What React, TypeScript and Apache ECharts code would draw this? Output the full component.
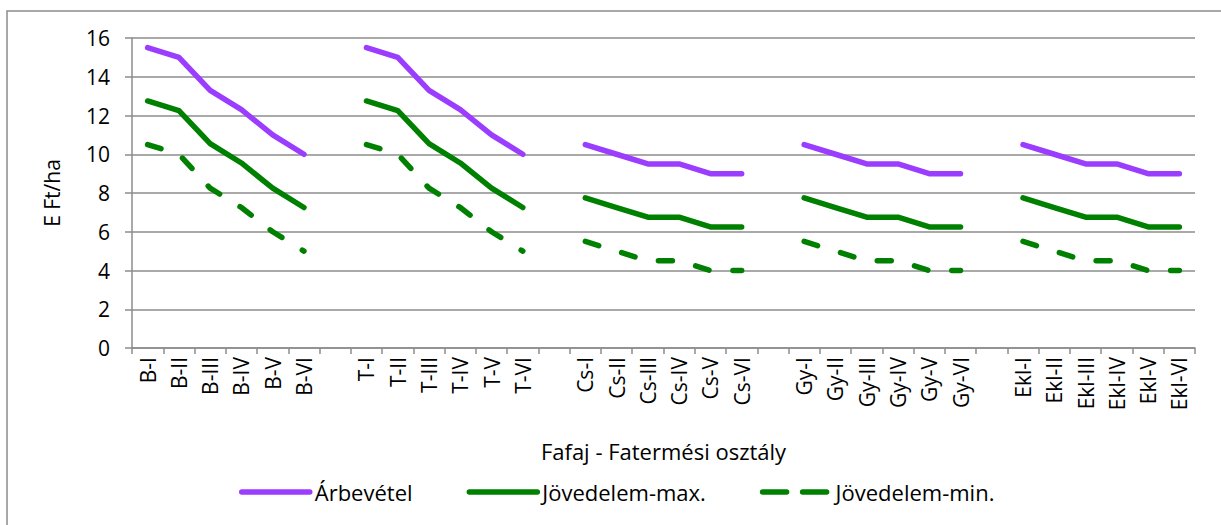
import React, { useEffect, useRef } from "react";
import * as echarts from "echarts";

const categories = [
  "B-I", "B-II", "B-III", "B-IV", "B-V", "B-VI", "_g1",
  "T-I", "T-II", "T-III", "T-IV", "T-V", "T-VI", "_g2",
  "Cs-I", "Cs-II", "Cs-III", "Cs-IV", "Cs-V", "Cs-VI", "_g3",
  "Gy-I", "Gy-II", "Gy-III", "Gy-IV", "Gy-V", "Gy-VI", "_g4",
  "Ekl-I", "Ekl-II", "Ekl-III", "Ekl-IV", "Ekl-V", "Ekl-VI",
];

const arbevetel = [
  15.5, 15, 13.3, 12.3, 11, 10, null,
  15.5, 15, 13.3, 12.3, 11, 10, null,
  10.5, 10, 9.5, 9.5, 9, 9, null,
  10.5, 10, 9.5, 9.5, 9, 9, null,
  10.5, 10, 9.5, 9.5, 9, 9,
];

const jovedelemMax = [
  12.75, 12.25, 10.55, 9.55, 8.25, 7.25, null,
  12.75, 12.25, 10.55, 9.55, 8.25, 7.25, null,
  7.75, 7.25, 6.75, 6.75, 6.25, 6.25, null,
  7.75, 7.25, 6.75, 6.75, 6.25, 6.25, null,
  7.75, 7.25, 6.75, 6.75, 6.25, 6.25,
];

const jovedelemMin = [
  10.5, 10, 8.25, 7.25, 6, 5, null,
  10.5, 10, 8.25, 7.25, 6, 5, null,
  5.5, 5, 4.5, 4.5, 4, 4, null,
  5.5, 5, 4.5, 4.5, 4, 4, null,
  5.5, 5, 4.5, 4.5, 4, 4,
];

const seriesNames = ["Árbevétel", "Jövedelem-max.", "Jövedelem-min."];
const yAxisTitle = "E Ft/ha";
const xAxisTitle = "Fafaj - Fatermési osztály";

const FONT = "'Open Sans', 'Noto Sans', sans-serif";
const PURPLE = "#9B3DFF";
const GREEN = "#008000";
const GRAY = "#8c8c8c";

export default function App() {
  const ref = useRef<HTMLDivElement>(null);

  useEffect(() => {
    if (!ref.current) return;
    const chart = echarts.init(ref.current, null, { renderer: "svg" });
    chart.setOption({
      animation: false,
      backgroundColor: "#ffffff",
      textStyle: { fontFamily: FONT, color: "#000" },
      graphic: [
        {
          type: "rect",
          shape: { x: 7, y: 11, width: 1400, height: 700 },
          style: { fill: "none", stroke: GRAY, lineWidth: 1.5 },
          silent: true,
        },
      ],
      grid: { left: 132, right: 26, top: 38, bottom: 177, containLabel: false },
      legend: {
        bottom: 17,
        left: 234,
        itemWidth: 68,
        itemHeight: 14,
        itemGap: 54,
        textStyle: { fontFamily: FONT, fontSize: 22, color: "#000" },
        itemStyle: { opacity: 0 },
        lineStyle: { width: 5.5, cap: "round" },
        data: [
          { name: seriesNames[0] },
          { name: seriesNames[1] },
          { name: seriesNames[2], lineStyle: { type: [24, 16], width: 5.5, cap: "round" } },
        ],
      },
      xAxis: {
        type: "category",
        data: categories,
        boundaryGap: true,
        name: xAxisTitle,
        nameLocation: "middle",
        nameGap: 92,
        nameTextStyle: { fontFamily: FONT, fontSize: 22, color: "#000" },
        axisLine: { show: true, lineStyle: { color: GRAY, width: 1.5 } },
        axisTick: { show: true, alignWithLabel: false, length: 6, lineStyle: { color: GRAY, width: 1.5 } },
        axisLabel: {
          interval: 0,
          rotate: 90,
          margin: 9,
          fontFamily: FONT,
          fontSize: 21,
          color: "#000",
          formatter: (v: string) => (v.startsWith("_") ? "" : v),
        },
        splitLine: { show: false },
      },
      yAxis: {
        type: "value",
        min: 0,
        max: 16,
        interval: 2,
        name: yAxisTitle,
        nameLocation: "middle",
        nameGap: 70,
        nameRotate: 90,
        nameTextStyle: { fontFamily: FONT, fontSize: 21, color: "#000" },
        axisLine: { show: true, lineStyle: { color: GRAY, width: 1.5 } },
        axisTick: { show: true, inside: false, length: 7, lineStyle: { color: GRAY, width: 1.5 } },
        axisLabel: { margin: 22, fontFamily: FONT, fontSize: 21, color: "#000" },
        splitLine: { show: true, lineStyle: { color: GRAY, width: 1.5 } },
      },
      series: [
        {
          name: seriesNames[0],
          type: "line",
          data: arbevetel,
          symbol: "none",
          connectNulls: false,
          lineStyle: { color: PURPLE, width: 5.5, cap: "round", join: "round" },
          itemStyle: { color: PURPLE },
        },
        {
          name: seriesNames[1],
          type: "line",
          data: jovedelemMax,
          symbol: "none",
          connectNulls: false,
          lineStyle: { color: GREEN, width: 5.5, cap: "round", join: "round" },
          itemStyle: { color: GREEN },
        },
        {
          name: seriesNames[2],
          type: "line",
          data: jovedelemMin,
          symbol: "none",
          connectNulls: false,
          lineStyle: { color: GREEN, width: 5.5, type: [14, 24], cap: "round", join: "round" },
          itemStyle: { color: GREEN },
        },
      ],
    });
    return () => chart.dispose();
  }, []);

  return (
    <div
      ref={ref}
      style={{ position: "absolute", left: 0, top: 0, width: 1221, height: 525 }}
    />
  );
}
